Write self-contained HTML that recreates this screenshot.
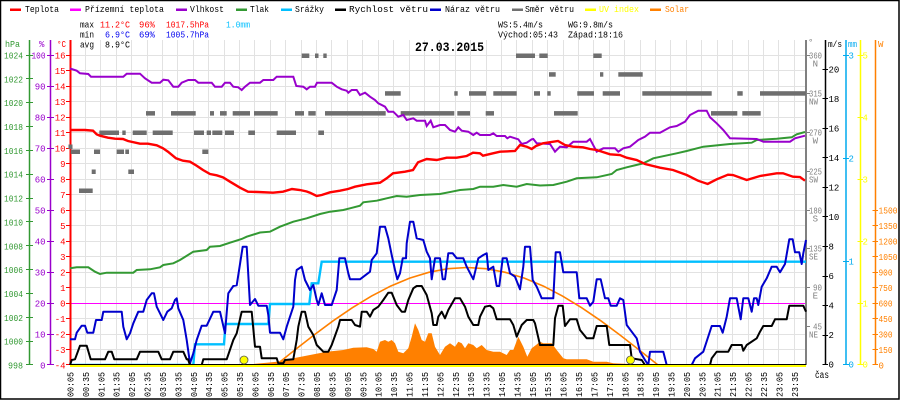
<!DOCTYPE html>
<html><head><meta charset="utf-8"><style>
html,body{margin:0;padding:0;background:#fff;}
svg{display:block;}
text{font-family:"Liberation Mono","DejaVu Sans Mono",monospace;font-size:9px;}
</style></head><body>
<svg width="900" height="400" viewBox="0 0 900 400" xmlns="http://www.w3.org/2000/svg">
<rect x="0" y="0" width="900" height="400" fill="#fff"/>
<rect x="0.5" y="0.5" width="898.5" height="398.5" fill="none" stroke="#000" stroke-width="1.5"/>

<!-- grid -->
<path fill="none" stroke="#e2e2e2" stroke-width="1" d="M85.5 40V365M100.5 40V365M116.5 40V365M131.5 40V365M147.5 40V365M162.5 40V365M177.5 40V365M193.5 40V365M208.5 40V365M224.5 40V365M239.5 40V365M254.5 40V365M270.5 40V365M285.5 40V365M301.5 40V365M316.5 40V365M331.5 40V365M347.5 40V365M362.5 40V365M378.5 40V365M393.5 40V365M409.5 40V365M424.5 40V365M439.5 40V365M455.5 40V365M470.5 40V365M486.5 40V365M501.5 40V365M516.5 40V365M532.5 40V365M547.5 40V365M563.5 40V365M578.5 40V365M593.5 40V365M609.5 40V365M624.5 40V365M640.5 40V365M655.5 40V365M670.5 40V365M686.5 40V365M701.5 40V365M717.5 40V365M732.5 40V365M748.5 40V365M763.5 40V365M778.5 40V365M794.5 40V365
M70 55.5H806M70 70.5H806M70 86.5H806M70 101.5H806M70 117.5H806M70 132.5H806M70 148.5H806M70 163.5H806M70 179.5H806M70 194.5H806M70 210.5H806M70 225.5H806M70 241.5H806M70 256.5H806M70 272.5H806M70 287.5H806M70 318.5H806M70 334.5H806M70 349.5H806"/>
<!-- zero line -->
<line x1="70" y1="303.5" x2="806" y2="303.5" stroke="#ff00ff" stroke-width="1"/>

<!-- legend -->
<g>
<rect x="10" y="8.5" width="11" height="2.5" fill="#ff0000"/><text x="25" y="12" textLength="34" lengthAdjust="spacingAndGlyphs">Teplota</text>
<rect x="70" y="8.5" width="11" height="2.5" fill="#ff00ff"/><text x="85" y="12" textLength="79" lengthAdjust="spacingAndGlyphs">Přízemní teplota</text>
<rect x="176" y="8.5" width="11" height="2.5" fill="#9900cc"/><text x="190" y="12" textLength="34" lengthAdjust="spacingAndGlyphs">Vlhkost</text>
<rect x="236" y="8.5" width="11" height="2.5" fill="#339933"/><text x="250" y="12" textLength="19" lengthAdjust="spacingAndGlyphs">Tlak</text>
<rect x="281" y="8.5" width="11" height="2.5" fill="#00bfff"/><text x="295" y="12" textLength="29" lengthAdjust="spacingAndGlyphs">Srážky</text>
<rect x="335" y="8.5" width="11" height="2.5" fill="#000"/><text x="349" y="12" textLength="79" lengthAdjust="spacingAndGlyphs">Rychlost větru</text>
<rect x="430" y="8.5" width="11" height="2.5" fill="#0000cc"/><text x="445" y="12" textLength="55" lengthAdjust="spacingAndGlyphs">Náraz větru</text>
<rect x="512" y="8.5" width="11" height="2.5" fill="#707070"/><text x="525" y="12" textLength="49" lengthAdjust="spacingAndGlyphs">Směr větru</text>
<rect x="585" y="8.5" width="11" height="2.5" fill="#ffff00"/><text x="599" y="12" textLength="40" lengthAdjust="spacingAndGlyphs" fill="#ffff00">UV index</text>
<rect x="650" y="8.5" width="11" height="2.5" fill="#ff8000"/><text x="665" y="12" textLength="24" lengthAdjust="spacingAndGlyphs" fill="#ff8000">Solar</text>
</g>

<!-- stats -->
<g>
<text x="80" y="27.5" textLength="14" lengthAdjust="spacingAndGlyphs">max</text>
<text x="100" y="27.5" textLength="30" lengthAdjust="spacingAndGlyphs" fill="#ff0000">11.2°C</text>
<text x="139" y="27.5" textLength="16" lengthAdjust="spacingAndGlyphs" fill="#ff0000">96%</text>
<text x="166" y="27.5" textLength="43" lengthAdjust="spacingAndGlyphs" fill="#ff0000">1017.5hPa</text>
<text x="226" y="27.5" textLength="24" lengthAdjust="spacingAndGlyphs" fill="#00bfff">1.0mm</text>
<text x="80" y="37.5" textLength="14" lengthAdjust="spacingAndGlyphs">min</text>
<text x="105" y="37.5" textLength="25" lengthAdjust="spacingAndGlyphs" fill="#0000ee">6.9°C</text>
<text x="139" y="37.5" textLength="16" lengthAdjust="spacingAndGlyphs" fill="#0000ee">69%</text>
<text x="166" y="37.5" textLength="43" lengthAdjust="spacingAndGlyphs" fill="#0000ee">1005.7hPa</text>
<text x="80" y="47.5" textLength="14" lengthAdjust="spacingAndGlyphs">avg</text>
<text x="105" y="47.5" textLength="25" lengthAdjust="spacingAndGlyphs">8.9°C</text>
<text x="498" y="27.5" textLength="45" lengthAdjust="spacingAndGlyphs">WS:5.4m/s</text>
<text x="568" y="27.5" textLength="45" lengthAdjust="spacingAndGlyphs">WG:9.8m/s</text>
<text x="498" y="37.5" textLength="60" lengthAdjust="spacingAndGlyphs">Východ:05:43</text>
<text x="568" y="37.5" textLength="55" lengthAdjust="spacingAndGlyphs">Západ:18:16</text>
<text x="415" y="51" textLength="69" lengthAdjust="spacingAndGlyphs" style="font-size:13px;font-weight:bold">27.03.2015</text>
</g>

<!-- left axes -->
<g>
<line x1="29.5" y1="40" x2="29.5" y2="365" stroke="#339933" stroke-width="1.5"/>
<line x1="50.5" y1="40" x2="50.5" y2="365" stroke="#9900cc" stroke-width="1.5"/>
<line x1="70.5" y1="40" x2="70.5" y2="365" stroke="#ff0000" stroke-width="2"/>
<text x="5" y="47" fill="#339933" textLength="15" lengthAdjust="spacingAndGlyphs">hPa</text>
<text x="39" y="47" fill="#9900cc">%</text>
<text x="57" y="47" fill="#ff0000" textLength="9" lengthAdjust="spacingAndGlyphs">°C</text>
<path stroke="#339933" stroke-width="1" d="M26 55.5H33M26 78.5H33M26 102.5H33M26 126.5H33M26 150.5H33M26 174.5H33M26 198.5H33M26 221.5H33M26 245.5H33M26 269.5H33M26 293.5H33M26 317.5H33M26 341.5H33M26 364.5H33"/>
<g fill="#339933" text-anchor="end">
<text x="23" y="58.5" textLength="19" lengthAdjust="spacingAndGlyphs">1024</text>
<text x="23" y="82.3" textLength="19" lengthAdjust="spacingAndGlyphs">1022</text>
<text x="23" y="106.2" textLength="19" lengthAdjust="spacingAndGlyphs">1020</text>
<text x="23" y="130" textLength="19" lengthAdjust="spacingAndGlyphs">1018</text>
<text x="23" y="153.9" textLength="19" lengthAdjust="spacingAndGlyphs">1016</text>
<text x="23" y="177.7" textLength="19" lengthAdjust="spacingAndGlyphs">1014</text>
<text x="23" y="201.6" textLength="19" lengthAdjust="spacingAndGlyphs">1012</text>
<text x="23" y="225.4" textLength="19" lengthAdjust="spacingAndGlyphs">1010</text>
<text x="23" y="249.3" textLength="19" lengthAdjust="spacingAndGlyphs">1008</text>
<text x="23" y="273.1" textLength="19" lengthAdjust="spacingAndGlyphs">1006</text>
<text x="23" y="297" textLength="19" lengthAdjust="spacingAndGlyphs">1004</text>
<text x="23" y="320.8" textLength="19" lengthAdjust="spacingAndGlyphs">1002</text>
<text x="23" y="344.7" textLength="19" lengthAdjust="spacingAndGlyphs">1000</text>
<text x="23" y="368.5" textLength="15" lengthAdjust="spacingAndGlyphs">998</text>
</g>
<path stroke="#9900cc" stroke-width="1" d="M47 55.5H54M47 86.5H54M47 117.5H54M47 148.5H54M47 179.5H54M47 210.5H54M47 241.5H54M47 272.5H54M47 303.5H54M47 334.5H54M47 364.5H54"/>
<g fill="#9900cc" text-anchor="end">
<text x="45.5" y="58.5" textLength="14" lengthAdjust="spacingAndGlyphs">100</text>
<text x="45.5" y="89.5">90</text><text x="45.5" y="120.5">80</text><text x="45.5" y="151.5">70</text><text x="45.5" y="182.5">60</text><text x="45.5" y="213.5">50</text><text x="45.5" y="244.5">40</text><text x="45.5" y="275.5">30</text><text x="45.5" y="306.5">20</text><text x="45.5" y="337.5">10</text><text x="45.5" y="368.5">0</text>
</g>
<path stroke="#ff0000" stroke-width="1" d="M66 55.5H71M66 70.5H71M66 86.5H71M66 101.5H71M66 117.5H71M66 132.5H71M66 148.5H71M66 163.5H71M66 179.5H71M66 194.5H71M66 210.5H71M66 225.5H71M66 241.5H71M66 256.5H71M66 272.5H71M66 287.5H71M66 303.5H71M66 318.5H71M66 334.5H71M66 349.5H71M66 364.5H71"/>
<g fill="#ff0000" text-anchor="end">
<text x="65.5" y="58.5">16</text><text x="65.5" y="74">15</text><text x="65.5" y="89.5">14</text><text x="65.5" y="105">13</text><text x="65.5" y="120.5">12</text><text x="65.5" y="136">11</text><text x="65.5" y="151.5">10</text><text x="65.5" y="167">9</text><text x="65.5" y="182.5">8</text><text x="65.5" y="198">7</text><text x="65.5" y="213.5">6</text><text x="65.5" y="229">5</text><text x="65.5" y="244.5">4</text><text x="65.5" y="260">3</text><text x="65.5" y="275.5">2</text><text x="65.5" y="291">1</text><text x="65.5" y="306.5">0</text><text x="65.5" y="322">-1</text><text x="65.5" y="337.5">-2</text><text x="65.5" y="353">-3</text><text x="65.5" y="368.5">-4</text>
</g>
</g>

<!-- right axes -->
<g>
<line x1="806" y1="40" x2="806" y2="365" stroke="#808080" stroke-width="2"/>
<line x1="825.5" y1="40" x2="825.5" y2="365" stroke="#000" stroke-width="1.5"/>
<line x1="846" y1="40" x2="846" y2="365" stroke="#00aaee" stroke-width="1.5"/>
<line x1="860.5" y1="40" x2="860.5" y2="365" stroke="#ffff00" stroke-width="1.5"/>
<line x1="875.5" y1="40" x2="875.5" y2="365" stroke="#ff8000" stroke-width="1.5"/>
<text x="808" y="45" fill="#808080">°</text>
<text x="828" y="47" textLength="14" lengthAdjust="spacingAndGlyphs">m/s</text>
<text x="848" y="47" fill="#00aaee" textLength="9" lengthAdjust="spacingAndGlyphs">mm</text>
<text x="878" y="47" fill="#ff8000">W</text>
<path stroke="#808080" stroke-width="1" d="M806 55.5H810M806 93.5H810M806 132.5H810M806 171.5H810M806 210.5H810M806 248.5H810M806 287.5H810M806 326.5H810"/>
<g fill="#808080" text-anchor="end">
<text x="822" y="58.5" textLength="13" lengthAdjust="spacingAndGlyphs">360</text><text x="818" y="66.5">N</text>
<text x="822" y="96.5" textLength="13" lengthAdjust="spacingAndGlyphs">315</text><text x="818" y="104.5" textLength="9" lengthAdjust="spacingAndGlyphs">NW</text>
<text x="822" y="135.5" textLength="13" lengthAdjust="spacingAndGlyphs">270</text><text x="818" y="143.5">W</text>
<text x="822" y="174.5" textLength="13" lengthAdjust="spacingAndGlyphs">225</text><text x="818" y="182.5" textLength="9" lengthAdjust="spacingAndGlyphs">SW</text>
<text x="822" y="213.5" textLength="13" lengthAdjust="spacingAndGlyphs">180</text><text x="818" y="221.5">S</text>
<text x="822" y="251.5" textLength="13" lengthAdjust="spacingAndGlyphs">135</text><text x="818" y="259.5" textLength="9" lengthAdjust="spacingAndGlyphs">SE</text>
<text x="822" y="290.5" textLength="9" lengthAdjust="spacingAndGlyphs">90</text><text x="818" y="298.5">E</text>
<text x="822" y="329.5" textLength="9" lengthAdjust="spacingAndGlyphs">45</text><text x="818" y="337.5" textLength="9" lengthAdjust="spacingAndGlyphs">NE</text>
</g>
<path stroke="#000" stroke-width="1" d="M822.5 69.5H828M822.5 98.5H828M822.5 128.5H828M822.5 157.5H828M822.5 187.5H828M822.5 216.5H828M822.5 246.5H828M822.5 276.5H828M822.5 305.5H828M822.5 335.5H828M822.5 364.5H828"/>
<g fill="#000">
<text x="828.5" y="72.5">20</text><text x="828.5" y="102">18</text><text x="828.5" y="131.5">16</text><text x="828.5" y="161">14</text><text x="828.5" y="190.5">12</text><text x="828.5" y="220">10</text><text x="828.5" y="249.5">8</text><text x="828.5" y="279">6</text><text x="828.5" y="308.5">4</text><text x="828.5" y="338">2</text><text x="828.5" y="367.5">0</text>
</g>
<path stroke="#00aaee" stroke-width="1" d="M843 55.5H849M843 158.5H849M843 261.5H849M843 364.5H849"/>
<g fill="#00aaee"><text x="848.5" y="58.5">3</text><text x="848.5" y="161.5">2</text><text x="848.5" y="264.5">1</text><text x="848.5" y="367.5">0</text></g>
<path stroke="#ffff00" stroke-width="1" d="M857.5 55.5H863M857.5 117.5H863M857.5 179.5H863M857.5 241.5H863M857.5 303.5H863M857.5 364.5H863"/>
<g fill="#ffff00"><text x="862.5" y="58.5">5</text><text x="862.5" y="120.5">4</text><text x="862.5" y="182.5">3</text><text x="862.5" y="244.5">2</text><text x="862.5" y="306.5">1</text><text x="862.5" y="367.5">0</text></g>
<path stroke="#ff8000" stroke-width="1" d="M872.5 210.5H878M872.5 225.5H878M872.5 241.5H878M872.5 256.5H878M872.5 272.5H878M872.5 287.5H878M872.5 303.5H878M872.5 318.5H878M872.5 334.5H878M872.5 349.5H878M872.5 364.5H878"/>
<g fill="#ff8000">
<text x="878.5" y="213.5" textLength="19" lengthAdjust="spacingAndGlyphs">1500</text>
<text x="878.5" y="229" textLength="19" lengthAdjust="spacingAndGlyphs">1350</text>
<text x="878.5" y="244.5" textLength="19" lengthAdjust="spacingAndGlyphs">1200</text>
<text x="878.5" y="260" textLength="19" lengthAdjust="spacingAndGlyphs">1050</text>
<text x="878.5" y="275.5" textLength="14" lengthAdjust="spacingAndGlyphs">900</text>
<text x="878.5" y="291" textLength="14" lengthAdjust="spacingAndGlyphs">750</text>
<text x="878.5" y="306.5" textLength="14" lengthAdjust="spacingAndGlyphs">600</text>
<text x="878.5" y="322" textLength="14" lengthAdjust="spacingAndGlyphs">450</text>
<text x="878.5" y="337.5" textLength="14" lengthAdjust="spacingAndGlyphs">300</text>
<text x="878.5" y="353" textLength="14" lengthAdjust="spacingAndGlyphs">150</text>
<text x="878.5" y="368.5">0</text>
</g>
</g>

<!-- wind direction bars -->
<g fill="#6e6e6e">
<rect x="301.7" y="53.5" width="7.6" height="4.5"/><rect x="315" y="53.5" width="3.5" height="4.5"/><rect x="323.3" y="53.5" width="3.4" height="4.5"/><rect x="516" y="53.5" width="19" height="4.5"/><rect x="539.3" y="53.5" width="8.4" height="4.5"/><rect x="593.3" y="53.5" width="8.4" height="4.5"/>
<rect x="549" y="72.2" width="6.7" height="4.5"/><rect x="600" y="72.2" width="3.3" height="4.5"/><rect x="618.3" y="72.2" width="24.4" height="4.5"/>
<rect x="385" y="91.2" width="15.7" height="4.5"/><rect x="454.3" y="91.2" width="3.4" height="4.5"/><rect x="469" y="91.2" width="17" height="4.5"/><rect x="493.3" y="91.2" width="23.4" height="4.5"/><rect x="534" y="91.2" width="6" height="4.5"/><rect x="547.3" y="91.2" width="3.4" height="4.5"/><rect x="577.3" y="91.2" width="16.7" height="4.5"/><rect x="602.7" y="91.2" width="17.3" height="4.5"/><rect x="642.3" y="91.2" width="69.4" height="4.5"/><rect x="737.3" y="91.2" width="5.4" height="4.5"/><rect x="760" y="91.2" width="46" height="4.5"/>
<rect x="146" y="111.1" width="9" height="4.5"/><rect x="171" y="111.1" width="24.7" height="4.5"/><rect x="210" y="111.1" width="4" height="4.5"/><rect x="220" y="111.1" width="6.7" height="4.5"/><rect x="232.7" y="111.1" width="17.3" height="4.5"/><rect x="254" y="111.1" width="23.7" height="4.5"/><rect x="295" y="111.1" width="9" height="4.5"/><rect x="308.3" y="111.1" width="7.4" height="4.5"/><rect x="325" y="111.1" width="60.7" height="4.5"/><rect x="400.7" y="111.1" width="53.6" height="4.5"/><rect x="457.3" y="111.1" width="12.7" height="4.5"/><rect x="485.7" y="111.1" width="8.3" height="4.5"/><rect x="554" y="111.1" width="23.7" height="4.5"/><rect x="711" y="111.1" width="26.3" height="4.5"/><rect x="742.3" y="111.1" width="18.4" height="4.5"/>
<rect x="99.3" y="130.5" width="19.7" height="4.5"/><rect x="122.3" y="130.5" width="3.4" height="4.5"/><rect x="132.7" y="130.5" width="14" height="4.5"/><rect x="152.7" y="130.5" width="20" height="4.5"/><rect x="194" y="130.5" width="10" height="4.5"/><rect x="206.7" y="130.5" width="4.3" height="4.5"/><rect x="212.3" y="130.5" width="10" height="4.5"/><rect x="225" y="130.5" width="9" height="4.5"/><rect x="248.3" y="130.5" width="6.7" height="4.5"/><rect x="276.7" y="130.5" width="19.3" height="4.5"/><rect x="318.3" y="130.5" width="5.7" height="4.5"/>
<rect x="68.5" y="144.5" width="4" height="4.5"/>
<rect x="70.7" y="149.5" width="9.3" height="4.5"/><rect x="94" y="149.5" width="6" height="4.5"/><rect x="116.7" y="149.5" width="7.3" height="4.5"/><rect x="125.3" y="149.5" width="3.7" height="4.5"/><rect x="202.3" y="149.5" width="6" height="4.5"/>
<rect x="91.7" y="169.5" width="4" height="4.5"/><rect x="128.3" y="169.5" width="5.7" height="4.5"/>
<rect x="79" y="188.5" width="13.7" height="4.5"/>
</g>

<!-- solar area -->
<polygon fill="#ff8000" points="253,365 253.3,364 266.7,362.7 276.7,361.7 283.3,360.5 293.3,358.3 310,355 326.7,351.7 343.3,350 353.3,347.7 366.7,347.3 373.3,349 376.7,351.7 380,341.7 385,340 388.3,341.7 391.7,340 395,343.3 398.3,351.7 403.3,353.3 408.3,348.3 411.7,336.7 415,323.3 418.3,330 421.7,340 425,341.7 428.3,333.3 431.7,333.3 435,346.7 440,355 445,346.7 450,343.3 455,346.7 458.3,341.7 461.7,343.3 465,348.3 468.3,343.3 473.3,345 476.7,348.3 481.7,345 486.7,350 493.3,351.7 500,351.7 506.7,355 510,350 513.3,350 518.3,336.7 523.3,346.7 527.3,356.7 531.7,348.3 536,345 540,341.7 543.3,343.3 551.7,343.3 556.7,350 563.3,358.3 566.7,359.3 586.7,359.3 593.3,361.7 606.7,361.7 613.3,363.3 630,364 643.3,364.7 650,365"/>
<!-- theoretical solar -->
<polyline fill="none" stroke="#ff8000" stroke-width="1.6" points="276,365 295.1,349.8 314.2,334.9 333.3,320.7 352.4,307.7 371.5,296.1 390.6,286.1 409.7,278.1 428.8,272.3 447.9,268.7 467,267.5 486.1,268.7 505.2,272.3 524.3,278.1 543.4,286.1 562.5,296.1 581.6,307.7 600.7,320.7 619.8,334.9 638.9,349.8 658,365"/>

<!-- pressure -->
<polyline fill="none" stroke="#339933" stroke-width="2" points="70,268.3 76.7,267.3 88.3,267.3 95,271.7 100,274 106.7,272.7 133.3,272.7 136.7,270 150,269.3 160,267.3 163.3,265 173.3,263.3 180,260 193.3,251.7 206.7,250 210,246.7 220,246 230,242.7 241.7,239 246.7,236.7 260,232.5 270,231.7 280,226.7 293.3,221.7 306.7,218.3 320,214 330,211.7 343.3,210 350,208.3 360,205.7 363.3,202.3 376.7,200.7 386.7,198.3 396.7,196 406.7,196.7 420,195 440,194 451.7,191.7 460,190 473.3,189 480,186.7 493.3,186.7 503.3,185 516.7,186.7 526.7,184 540,185.5 553.3,185 566.7,181.7 576.7,178.3 596.7,177.3 611.7,174 616.7,170 626.7,167.3 643.3,163.3 653.3,158.3 676.7,153.3 686.7,151 703.3,146.7 730,144 751.7,142.7 756.7,140 776.7,138.7 791.7,137.3 796.7,134.3 805,132"/>
<!-- humidity -->
<polyline fill="none" stroke="#9900cc" stroke-width="2" points="70,68.5 76.7,70.7 80,73.3 88.3,74 91,76.7 123.3,76.7 126.7,73.7 140,73.7 145,78.3 151.7,82.7 160,82.7 163.3,79.7 168.3,80.3 173.3,86.7 178.3,86.7 181.7,82.7 188.3,80 195,80 198.3,82.7 211.7,82.7 215,86.7 221.7,86.7 225,82.7 230,82.7 233.3,86.7 238.3,87.3 241.7,90 245,86.7 250,82.7 260,82.7 263.3,80 273.3,80 276.7,76.7 293.3,76.7 296.3,86 303.3,86.7 306.7,89.3 310,86.7 315,86.7 317,82.7 331.7,82.7 336.7,86.7 341.7,89.3 346.7,90.7 348.3,92.7 351.7,90 356.7,90 360,95 365,92.7 370,96.7 375,100 378.3,103.3 385,106.7 388.3,111.7 393.3,111.7 398.3,116.7 403.3,115 406.7,120 413.3,118.3 416.7,120.7 425,120.7 426.7,126 430.7,120.7 433.3,127.3 440,125 445,125 450,130 455,131.7 458.3,127.3 461.7,130.7 468.3,131.7 473.3,135 476.7,132.7 480,135 490,135 493.3,133.3 496.7,136 505,136 507.3,138.3 510,136.7 518.3,139.3 521.7,144 526.7,142.7 531.7,139.3 533.3,139 536.7,143.3 550,144 555,151.7 560,146.7 566.7,147.3 573.3,141.7 586.7,141.7 590,139 596.7,151.7 603.3,148.3 615,148.3 618.3,151.7 623.3,148.3 630,146.7 638.3,140 645,136.7 650,132.7 660,132.7 670,127.3 676.7,126 685,121.7 690,115 698.3,110.7 706.7,110.7 710,117.3 716.7,123.3 723.3,130 730,138.3 756.7,139 763.3,141.7 790,141.7 795,138.3 805,135.7"/>
<!-- temperature -->
<polyline fill="none" stroke="#ff0000" stroke-width="2.4" points="70,130 85,130 93,130.7 96.7,134.3 100,135.7 108,137.7 115,138.7 123,139 128,141 140,143.7 148,143.7 156.7,145.3 163,148.3 168,151.7 176,158.3 183,160.7 190,161.7 196.7,165.7 203,170 210,174 216.7,175.3 223,177.3 230,181.7 240,187.7 248,191.7 258,192 273,192.7 283,191.7 292,189 300,190 306.7,191.5 310,192.7 316.7,196 321.7,195 330,192.3 340,190.7 348,189 355,186.7 366.7,184.3 380,182.7 386.7,178.3 393,173.3 405,171.7 413,170 418,162.3 426.7,159 436.7,160 446.7,157.7 456.7,157.7 466.7,156 473,152.7 480,153.3 483,155.7 493,153.3 500,151.7 515,151 520,145 526.7,146.7 531.7,149 536,146 543,143.3 558,141 565,145 573,146.7 583,147.3 590,149 596.7,150 610,154.3 620,155 626.7,157.7 636.7,160 645,164 660,167.7 673,170 686.7,175 698,180.7 707.7,184 716.7,179.3 728,174.7 733,175 746.7,180 760,176 776.7,173.3 783,173.3 793,176.7 800,177 805,180.7"/>
<!-- precipitation -->
<polyline fill="none" stroke="#00bfff" stroke-width="2.4" points="70,365 193.3,365 195,344.3 224,344.3 225.5,324 268.3,324 270,304 309.3,304 311.7,283.3 318.3,283.3 321.7,261.7 806,261.7"/>
<!-- gust -->
<polyline fill="none" stroke="#0000cc" stroke-width="2" stroke-linejoin="round" points="70,339.3 75,339.3 76.7,332.7 81.7,325.7 85,325.7 87.3,332.7 93.3,332.7 96,320 101.7,320 103.3,311.7 121.7,311.7 123.3,326.7 126.7,339.3 130,333.3 133.3,323.3 138.3,311.7 143.3,311.7 146.7,300 151.7,293.3 154,293.3 156.7,306.7 160,313.3 163.3,320 167.3,311.7 171.7,308.3 175,300 176.7,298.3 178.3,308.3 183.3,320 186.7,340 190,363.3 193.3,353.3 196.7,340 201.7,325.7 206.7,325.7 213.3,311.7 220,311.7 225,333.3 228.3,293.3 233.3,286 236.7,285.3 242.7,246.7 246.7,246.7 250,305 255,299 258.3,305.7 266.7,305.7 268.3,315 270,332.7 280,332.7 283.3,339.3 286.7,326.7 293.3,306.7 295,280 296.7,270 301.7,266.7 305,280 310,290 313.3,285 316.7,300 318.3,305 321.7,293.3 325,305 331.7,305 336.7,290 339.3,258.3 345,258.3 348.3,273.3 350,279.3 360,279.3 370,271.7 371.7,260 376.7,253.3 380,226.7 385,226.7 388.3,238.3 391.7,255 395,270 397.3,279.3 400,273.3 402.7,258.3 406,258.3 406.7,243.3 410,221.7 413.3,221.7 416.7,238.3 423.3,240 426.7,251.7 430,258.3 431.7,279.3 435,258.3 440,258.3 442.7,279.3 445,279.3 448.3,253.3 452.7,253.3 456.7,258.3 463.3,258.3 466.7,266.7 473.3,279.3 478.3,258.3 483.3,255 486.7,253.3 488.3,270 493.3,266.7 496.7,286 499.3,286 502.7,258.3 506.7,258.3 510,273.3 515,276.7 520,289.3 523.3,266.7 525,246.7 530,246.7 532.7,280 536.7,286.7 541.7,298.3 553.3,298.3 555.7,252.3 560,252.3 563.3,272.3 576.7,272.3 579.3,298.3 586.7,298.3 590,305.7 593.3,301.7 596.7,279.3 600.7,279.3 605,298.3 608.3,298.3 610.7,305.7 616.7,305.7 620,298.3 623.3,300 626.7,325 631.7,331.7 636.7,338.3 640,351.7 645,360 648.3,365 650,351.7 663.3,351.7 666.7,365 691.7,365 695,358.3 703.3,351.7 711.7,326 720,326 722.7,332.7 726.7,316.7 730,298.3 736.7,298.3 740.7,319.3 743.3,298.3 748.3,298.3 751.7,311.7 754,298.3 756.7,298.3 758.3,305 761.7,286.7 766.7,278.3 771.7,266.7 776.7,266.7 780,272.3 785,264 789.3,239.3 792.7,239.3 795,252.3 799.3,252.3 801.7,264 803.3,253.3 806,240"/>
<!-- wind speed -->
<polyline fill="none" stroke="#000" stroke-width="2" stroke-linejoin="round" points="70,365 71.7,360 75,359.3 80,345.7 86.7,345.7 90.7,359.3 105,359.3 108.3,351.7 111.7,351.7 114.3,359.3 136.7,359.3 140,351.7 158.3,351.7 161.7,359.3 170,359.3 173.3,351.7 183.3,351.7 186.7,359.3 188,359.3 190,365 201.7,365 203.3,359.3 226.7,359.3 233.3,340 236.7,333.3 241.7,311.7 251.7,311.7 255,346.7 260,346.7 261.7,358.3 276.7,358.3 278.3,363.3 283.3,363.3 285,360 293.3,359.3 296.7,340 298.3,326.7 301.7,311.7 305,311.7 308.3,326.7 313.3,335 316.7,345 323.3,351.7 328.3,351.7 331.7,345 338.3,326.7 340,320 351.7,320 355,325 360,326.7 361.7,311.7 366.7,311.7 370,316.7 373.3,310 378.3,306.7 383.3,300 388.3,292.7 391.7,292.7 396.7,305 401.7,311.7 405,311.7 408.3,300 413.3,288.3 416.7,286 421.7,286 426.7,295 431.7,313.3 433.3,325 436.7,325 438.3,316.7 441.7,311.7 445,318.3 448.3,310 455,298.3 460,298.3 465,306.7 468.3,316.7 473.3,325 478.3,325 480,316.7 485,306.7 490,305.7 493.3,308.3 496.7,319.3 510,319.3 513.3,325 516.7,336.7 521.7,325 526.7,320 533.3,320 535,323.3 540,345 553.3,345 555,318.3 558.3,305.7 562.7,305.7 565,326 570,319.3 576.7,319.3 580,330 586.7,338.3 593.3,338.3 596.7,326 606.7,326 609.3,345 630,345 631.7,358.3 641.7,360 645,365 710,365 711.7,358.3 716.7,351.7 728.3,351.7 731.7,345 741.7,345 743.3,350.7 746.7,345 756.7,338.3 760,331.7 763.3,326 771.7,326 775,319.3 786.7,319.3 789.3,305.7 803.3,305.7 806,311.7"/>

<!-- x axis -->
<line x1="70" y1="364.5" x2="806" y2="364.5" stroke="#000" stroke-width="1"/>
<line x1="70" y1="366" x2="806" y2="366" stroke="#ffff00" stroke-width="2"/>
<circle cx="244" cy="360" r="4" fill="#ffff00" stroke="#555" stroke-width="0.8"/>
<circle cx="630.5" cy="360" r="4" fill="#ffff00" stroke="#555" stroke-width="0.8"/>

<!-- time labels -->
<g fill="#000">
<text transform="translate(73.5,397) rotate(-90)" textLength="25" lengthAdjust="spacingAndGlyphs">00:05</text>
<text transform="translate(88.9,397) rotate(-90)" textLength="25" lengthAdjust="spacingAndGlyphs">00:35</text>
<text transform="translate(104.3,397) rotate(-90)" textLength="25" lengthAdjust="spacingAndGlyphs">01:05</text>
<text transform="translate(119.7,397) rotate(-90)" textLength="25" lengthAdjust="spacingAndGlyphs">01:35</text>
<text transform="translate(135.1,397) rotate(-90)" textLength="25" lengthAdjust="spacingAndGlyphs">02:05</text>
<text transform="translate(150.6,397) rotate(-90)" textLength="25" lengthAdjust="spacingAndGlyphs">02:35</text>
<text transform="translate(166,397) rotate(-90)" textLength="25" lengthAdjust="spacingAndGlyphs">03:05</text>
<text transform="translate(181.4,397) rotate(-90)" textLength="25" lengthAdjust="spacingAndGlyphs">03:35</text>
<text transform="translate(196.8,397) rotate(-90)" textLength="25" lengthAdjust="spacingAndGlyphs">04:05</text>
<text transform="translate(212.2,397) rotate(-90)" textLength="25" lengthAdjust="spacingAndGlyphs">04:35</text>
<text transform="translate(227.6,397) rotate(-90)" textLength="25" lengthAdjust="spacingAndGlyphs">05:05</text>
<text transform="translate(243,397) rotate(-90)" textLength="25" lengthAdjust="spacingAndGlyphs">05:35</text>
<text transform="translate(258.4,397) rotate(-90)" textLength="25" lengthAdjust="spacingAndGlyphs">06:05</text>
<text transform="translate(273.8,397) rotate(-90)" textLength="25" lengthAdjust="spacingAndGlyphs">06:35</text>
<text transform="translate(289.2,397) rotate(-90)" textLength="25" lengthAdjust="spacingAndGlyphs">07:05</text>
<text transform="translate(304.7,397) rotate(-90)" textLength="25" lengthAdjust="spacingAndGlyphs">07:35</text>
<text transform="translate(320.1,397) rotate(-90)" textLength="25" lengthAdjust="spacingAndGlyphs">08:05</text>
<text transform="translate(335.5,397) rotate(-90)" textLength="25" lengthAdjust="spacingAndGlyphs">08:35</text>
<text transform="translate(350.9,397) rotate(-90)" textLength="25" lengthAdjust="spacingAndGlyphs">09:05</text>
<text transform="translate(366.3,397) rotate(-90)" textLength="25" lengthAdjust="spacingAndGlyphs">09:35</text>
<text transform="translate(381.7,397) rotate(-90)" textLength="25" lengthAdjust="spacingAndGlyphs">10:05</text>
<text transform="translate(397.1,397) rotate(-90)" textLength="25" lengthAdjust="spacingAndGlyphs">10:35</text>
<text transform="translate(412.5,397) rotate(-90)" textLength="25" lengthAdjust="spacingAndGlyphs">11:05</text>
<text transform="translate(427.9,397) rotate(-90)" textLength="25" lengthAdjust="spacingAndGlyphs">11:35</text>
<text transform="translate(443.3,397) rotate(-90)" textLength="25" lengthAdjust="spacingAndGlyphs">12:05</text>
<text transform="translate(458.8,397) rotate(-90)" textLength="25" lengthAdjust="spacingAndGlyphs">12:35</text>
<text transform="translate(474.2,397) rotate(-90)" textLength="25" lengthAdjust="spacingAndGlyphs">13:05</text>
<text transform="translate(489.6,397) rotate(-90)" textLength="25" lengthAdjust="spacingAndGlyphs">13:35</text>
<text transform="translate(505,397) rotate(-90)" textLength="25" lengthAdjust="spacingAndGlyphs">14:05</text>
<text transform="translate(520.4,397) rotate(-90)" textLength="25" lengthAdjust="spacingAndGlyphs">14:35</text>
<text transform="translate(535.8,397) rotate(-90)" textLength="25" lengthAdjust="spacingAndGlyphs">15:05</text>
<text transform="translate(551.2,397) rotate(-90)" textLength="25" lengthAdjust="spacingAndGlyphs">15:35</text>
<text transform="translate(566.6,397) rotate(-90)" textLength="25" lengthAdjust="spacingAndGlyphs">16:05</text>
<text transform="translate(582,397) rotate(-90)" textLength="25" lengthAdjust="spacingAndGlyphs">16:35</text>
<text transform="translate(597.4,397) rotate(-90)" textLength="25" lengthAdjust="spacingAndGlyphs">17:05</text>
<text transform="translate(612.9,397) rotate(-90)" textLength="25" lengthAdjust="spacingAndGlyphs">17:35</text>
<text transform="translate(628.3,397) rotate(-90)" textLength="25" lengthAdjust="spacingAndGlyphs">18:05</text>
<text transform="translate(643.7,397) rotate(-90)" textLength="25" lengthAdjust="spacingAndGlyphs">18:35</text>
<text transform="translate(659.1,397) rotate(-90)" textLength="25" lengthAdjust="spacingAndGlyphs">19:05</text>
<text transform="translate(674.5,397) rotate(-90)" textLength="25" lengthAdjust="spacingAndGlyphs">19:35</text>
<text transform="translate(689.9,397) rotate(-90)" textLength="25" lengthAdjust="spacingAndGlyphs">20:05</text>
<text transform="translate(705.3,397) rotate(-90)" textLength="25" lengthAdjust="spacingAndGlyphs">20:35</text>
<text transform="translate(720.7,397) rotate(-90)" textLength="25" lengthAdjust="spacingAndGlyphs">21:05</text>
<text transform="translate(736.1,397) rotate(-90)" textLength="25" lengthAdjust="spacingAndGlyphs">21:35</text>
<text transform="translate(751.5,397) rotate(-90)" textLength="25" lengthAdjust="spacingAndGlyphs">22:05</text>
<text transform="translate(767,397) rotate(-90)" textLength="25" lengthAdjust="spacingAndGlyphs">22:35</text>
<text transform="translate(782.4,397) rotate(-90)" textLength="25" lengthAdjust="spacingAndGlyphs">23:05</text>
<text transform="translate(797.8,397) rotate(-90)" textLength="25" lengthAdjust="spacingAndGlyphs">23:35</text>
</g>
<text x="815" y="378" style="font-size:10px" textLength="14" lengthAdjust="spacingAndGlyphs">čas</text>
</svg>
</body></html>
